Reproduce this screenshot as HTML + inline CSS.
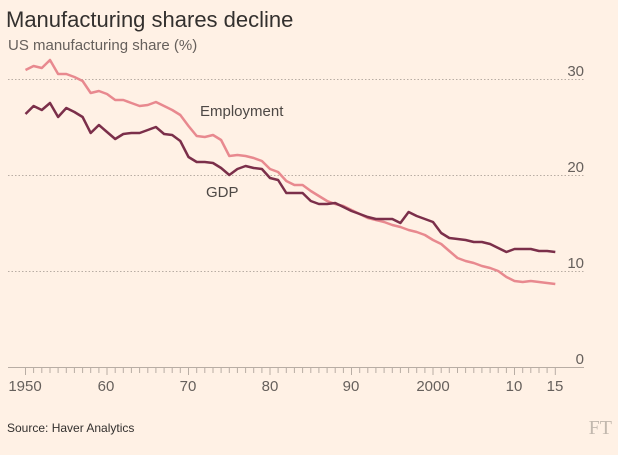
<!DOCTYPE html>
<html><head><style>
html,body{margin:0;padding:0;background:#fff1e5;}
body{width:618px;height:450px;overflow:hidden;font-family:"Liberation Sans",sans-serif;}
</style></head><body>
<svg width="618" height="450" xmlns="http://www.w3.org/2000/svg" id="s">
<rect width="618" height="450" fill="#fff1e5"/>
<text x="6" y="27" font-size="22" fill="#33302e">Manufacturing shares decline</text>
<text x="8" y="50" font-size="15" fill="#66605c">US manufacturing share (%)</text>
<g stroke="#b8ada4" stroke-width="1" stroke-dasharray="1.5,2">
<line x1="8" x2="584" y1="79.5" y2="79.5"/>
<line x1="8" x2="584" y1="175.5" y2="175.5"/>
<line x1="8" x2="584" y1="271.5" y2="271.5"/>
</g>
<line x1="8" x2="584" y1="367.5" y2="367.5" stroke="#b8ada4"/>
<g font-size="15" fill="#66605c" text-anchor="end">
<text x="584" y="76">30</text>
<text x="584" y="172">20</text>
<text x="584" y="268">10</text>
<text x="584" y="364">0</text>
</g>
<g id="ticks" stroke="#b8ada4"></g>
<g font-size="15" fill="#66605c" text-anchor="middle">
<text x="25" y="391">1950</text>
<text x="106" y="391">60</text>
<text x="188" y="391">70</text>
<text x="270" y="391">80</text>
<text x="351" y="391">90</text>
<text x="433" y="391">2000</text>
<text x="514" y="391">10</text>
<text x="555" y="391">15</text>
</g>
<polyline id="emp" fill="none" stroke="#e8898f" stroke-width="2.5" stroke-linejoin="round"/>
<polyline id="gdp" fill="none" stroke="#7b2f4a" stroke-width="2.5" stroke-linejoin="round"/>
<text x="200" y="116" font-size="15" fill="#4d4845">Employment</text>
<text x="206" y="197" font-size="15" fill="#4d4845">GDP</text>
<text x="7" y="432" font-size="12" fill="#33302e">Source: Haver Analytics</text>
<text x="612" y="434" font-size="20" fill="#c2b8ae" text-anchor="end" font-family="Liberation Serif,serif">FT</text>
</svg>
<script>
var e=[70,66,68,60,74,74,77,81,93,91,94,100,100,103,106,105,102,106,110,115,126,136,137,135,140,156,155,156,158,161,169,172,181,185,185,191,196,201,204,206,210,214,218,220,222,225,227,230,232,235,240,244,251,258,261,263,266,268,271,277,281,282,281,282,283,284];
var g=[114,106,110,103,117,108,112,117,133,125,132,139,134,133,133,130,127,134,135,141,157,162,162,163,168,175,169,166,168,169,178,180,193,193,193,201,204,204,203,207,211,214,217,219,219,219,223,212,216,219,222,233,238,239,240,242,242,244,248,252,249,249,249,251,251,252];
function X(i){return 25.5+8.15*i;}
function pts(a){return a.map(function(v,i){return X(i).toFixed(1)+","+v;}).join(" ");}
document.getElementById("emp").setAttribute("points",pts(e));
document.getElementById("gdp").setAttribute("points",pts(g));
var t="";for(var i=0;i<=65;i++){var l=(i%10==0||i==65)?7:5;t+='<line x1="'+X(i).toFixed(1)+'" x2="'+X(i).toFixed(1)+'" y1="368" y2="'+(368+l)+'"/>';}
document.getElementById("ticks").innerHTML=t;
</script>
</body></html>
